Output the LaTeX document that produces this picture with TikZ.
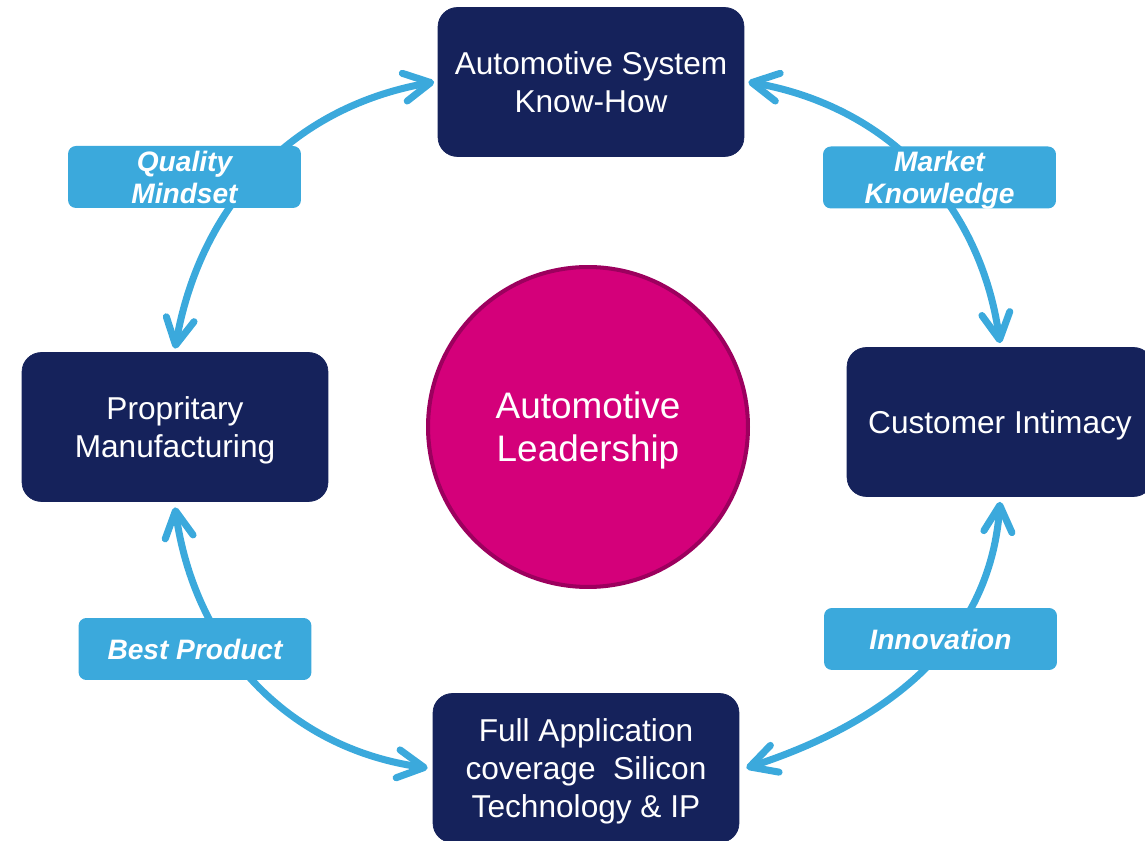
\documentclass[tikz,border=0pt]{standalone}
\usepackage{fontspec}
\setmainfont{Liberation Sans}
\usetikzlibrary{arrows.meta,positioning,calc}
\definecolor{stnavy}{HTML}{15225B}
\definecolor{stsky}{HTML}{3BA9DC}
\definecolor{stpink}{HTML}{D4007A}
\definecolor{stpinkdark}{HTML}{9C005E}
\tikzset{
  box/.style={fill=stnavy, draw=stnavy, rounded corners=11pt, text=white,
    minimum width=6.12cm, minimum height=2.98cm, inner sep=0pt, align=center,
    text depth=0pt, font=\fontsize{18}{21.6}\selectfont},
  tag/.style={fill=stsky, rounded corners=4.5pt, text=white,
    minimum width=4.66cm, minimum height=1.24cm, inner sep=0pt, align=center,
    text depth=0pt, font=\fontsize{16}{18.2}\selectfont\bfseries\itshape},
  flow/.style={stsky, line width=4pt, line cap=round,
    >={Straight Barb[length=15pt,width=16pt,line cap=round,line join=round]}, <->}
}

\begin{document}
\begin{tikzpicture}[x=0.02cm, y=0.02cm]
  \useasboundingbox (0,0) rectangle (1145,841);
  \clip (0,0) rectangle (1145,841);

  %% the four corner blocks and the centre
  \node [box] (sys)  at (591,759) {Automotive System\\Know-How};
  \node [box] (mfg)  at (175,414) {Propritary\\Manufacturing};
  \node [box] (cust) at (1000,419) {Customer Intimacy};
  \node [box] (full) at (586,73) {Full Application\\coverage~ Silicon\\Technology \& IP};
  \node [circle, fill=stpink, draw=stpinkdark, line width=2.3pt, minimum size=6.4cm,
    text=white, align=center, text depth=0pt, font=\fontsize{21}{24.5}\selectfont]
    (lead) at (588,414) {Automotive\\Leadership};

  %% arrow ends
  \coordinate (tl_a) at ([yshift=0.07cm]mfg.north);
  \coordinate (tl_b) at ([xshift=-0.07cm]sys.west);
  \coordinate (tr_a) at ([xshift=0.08cm]sys.east);
  \coordinate (tr_b) at ([yshift=0.08cm]cust.north);
  \coordinate (br_a) at ([yshift=-0.1cm]cust.south);
  \coordinate (br_b) at ([xshift=0.14cm]full.east);
  \coordinate (bl_a) at ([yshift=-0.11cm]mfg.south);
  \coordinate (bl_b) at ([xshift=-0.1cm]full.west);

  \foreach \a/\b/\o/\i in {tl_a/tl_b/80/190, tr_a/tr_b/-10/98,
                           br_a/br_b/-94/18, bl_a/bl_b/-82/172} {
    \draw [flow] (\a) to[out=\o, in=\i] (\b);
  }

  %% labels on the arrows
  \node [tag] (quality) at (184.5,664) {Quality\\Mindset};
  \node [tag] (market)  at (939.5,663.5) {Market\\Knowledge};
  \node [tag] (best)    at (195,192) {Best Product};
  \node [tag] (innov)   at (940.5,202) {Innovation};
\end{tikzpicture}
\end{document}
